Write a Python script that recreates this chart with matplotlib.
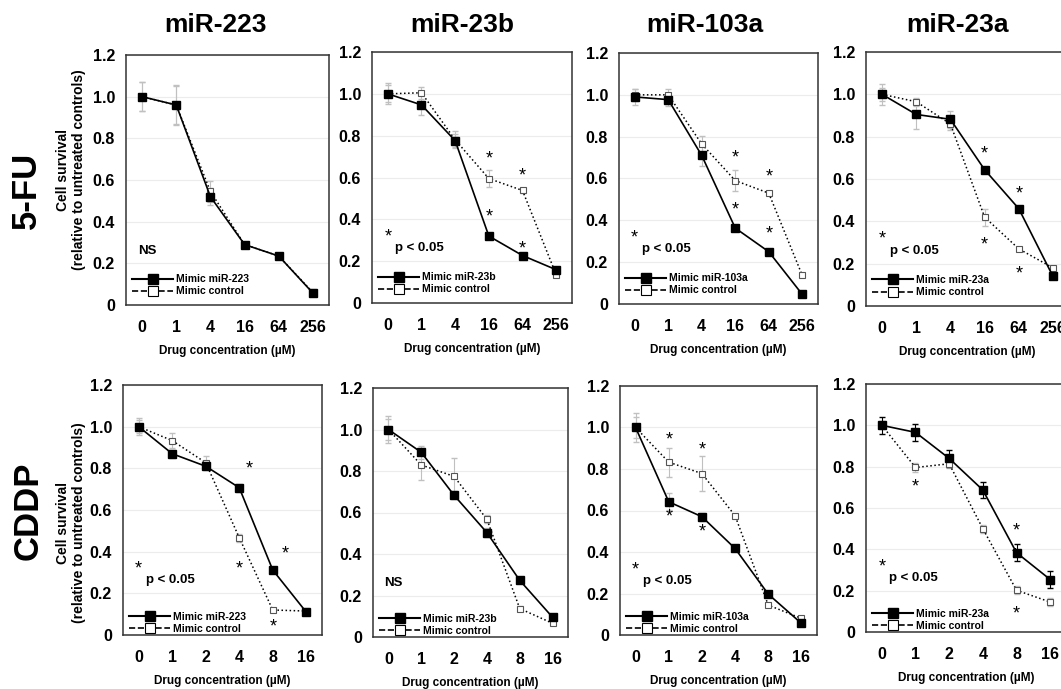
import matplotlib
matplotlib.use("Agg")
import matplotlib.pyplot as plt
from matplotlib.lines import Line2D

plt.rcParams['font.family'] = ['Liberation Sans', 'DejaVu Sans']
plt.rcParams['font.weight'] = 'bold'

# x categories (drug concentration, uM)
conc_5fu = ['0', '1', '4', '16', '64', '256']
conc_cddp = ['0', '1', '2', '4', '8', '16']

mirnas = ['miR-223', 'miR-23b', 'miR-103a', 'miR-23a']

# 5-FU row
fu_223_mimic = [1.00, 0.96, 0.52, 0.29, 0.235, 0.057]
fu_223_ctrl = [1.00, 0.96, 0.545, 0.29, 0.235, 0.06]
fu_223_mimic_err = [0.07, 0.095, 0.04, 0.01, 0.01, 0.01]
fu_223_ctrl_err = [0.07, 0.09, 0.05, 0.01, 0.01, 0.01]

fu_23b_mimic = [1.00, 0.947, 0.776, 0.32, 0.227, 0.159]
fu_23b_ctrl = [1.00, 1.005, 0.78, 0.595, 0.538, 0.135]
fu_23b_mimic_err = [0.05, 0.05, 0.03, 0.01, 0.01, 0.01]
fu_23b_ctrl_err = [0.04, 0.03, 0.04, 0.04, 0.01, 0.01]

fu_103a_mimic = [0.99, 0.977, 0.71, 0.363, 0.25, 0.046]
fu_103a_ctrl = [1.00, 1.00, 0.765, 0.59, 0.53, 0.137]
fu_103a_mimic_err = [0.04, 0.03, 0.05, 0.01, 0.01, 0.01]
fu_103a_ctrl_err = [0.03, 0.03, 0.04, 0.05, 0.01, 0.01]

fu_23a_mimic = [1.00, 0.905, 0.882, 0.644, 0.46, 0.14]
fu_23a_ctrl = [1.00, 0.965, 0.86, 0.42, 0.27, 0.18]
fu_23a_mimic_err = [0.05, 0.07, 0.04, 0.01, 0.01, 0.01]
fu_23a_ctrl_err = [0.03, 0.02, 0.03, 0.04, 0.01, 0.01]

# CDDP row
cddp_223_mimic = [1.00, 0.87, 0.81, 0.707, 0.312, 0.11]
cddp_223_ctrl = [1.00, 0.933, 0.827, 0.467, 0.12, 0.115]
cddp_223_mimic_err = [0.04, 0.02, 0.02, 0.02, 0.01, 0.01]
cddp_223_ctrl_err = [0.03, 0.035, 0.03, 0.02, 0.01, 0.01]

cddp_23b_mimic = [1.00, 0.89, 0.683, 0.503, 0.273, 0.095]
cddp_23b_ctrl = [1.00, 0.829, 0.774, 0.567, 0.137, 0.066]
cddp_23b_mimic_err = [0.065, 0.03, 0.02, 0.02, 0.01, 0.01]
cddp_23b_ctrl_err = [0.05, 0.07, 0.09, 0.02, 0.01, 0.01]

cddp_103a_mimic = [1.00, 0.642, 0.57, 0.417, 0.197, 0.056]
cddp_103a_ctrl = [1.00, 0.833, 0.778, 0.575, 0.144, 0.08]
cddp_103a_mimic_err = [0.07, 0.04, 0.02, 0.01, 0.01, 0.01]
cddp_103a_ctrl_err = [0.05, 0.07, 0.085, 0.01, 0.01, 0.01]

cddp_23a_mimic = [1.00, 0.966, 0.84, 0.687, 0.384, 0.254]
cddp_23a_ctrl = [1.00, 0.796, 0.814, 0.50, 0.202, 0.145]
cddp_23a_mimic_err = [0.04, 0.04, 0.04, 0.04, 0.04, 0.04]
cddp_23a_ctrl_err = [0.02, 0.02, 0.02, 0.02, 0.02, 0.02]

# significance marks (x index, y)
stars = [
    [],
    [(3, 0.69), (3, 0.41), (4, 0.605), (4, 0.256)],
    [(3, 0.70), (3, 0.45), (4, 0.607), (4, 0.333)],
    [(3, 0.72), (3, 0.29), (4, 0.53), (4, 0.15)],
    [(3.3, 0.795), (3.0, 0.315), (4.36, 0.39), (4.0, 0.04)],
    [],
    [(1, 0.942), (1, 0.57), (2, 0.89), (2, 0.497)],
    [(1, 0.70), (3.95, 0.367), (4, 0.49), (4, 0.086)],
]
sig = [False, True, True, True, True, False, True, True]

panels = [
    (fu_223_mimic, fu_223_ctrl, fu_223_mimic_err, fu_223_ctrl_err),
    (fu_23b_mimic, fu_23b_ctrl, fu_23b_mimic_err, fu_23b_ctrl_err),
    (fu_103a_mimic, fu_103a_ctrl, fu_103a_mimic_err, fu_103a_ctrl_err),
    (fu_23a_mimic, fu_23a_ctrl, fu_23a_mimic_err, fu_23a_ctrl_err),
    (cddp_223_mimic, cddp_223_ctrl, cddp_223_mimic_err, cddp_223_ctrl_err),
    (cddp_23b_mimic, cddp_23b_ctrl, cddp_23b_mimic_err, cddp_23b_ctrl_err),
    (cddp_103a_mimic, cddp_103a_ctrl, cddp_103a_mimic_err, cddp_103a_ctrl_err),
    (cddp_23a_mimic, cddp_23a_ctrl, cddp_23a_mimic_err, cddp_23a_ctrl_err),
]

# axes boxes in pixels: left, right, top, bottom
boxes = [
    (126, 329, 55, 305), (372, 572, 52, 303), (619, 818, 53, 304), (866, 1069, 52, 306),
    (123, 322, 385, 635), (373, 568, 388, 637), (620, 817, 386, 635), (866, 1066, 384, 632),
]

W, H = 1061, 689
fig = plt.figure(figsize=(W / 100, H / 100), dpi=100)

for i, (mimic, ctrl, merr, cerr) in enumerate(panels):
    l, r, t, b = boxes[i]
    ax = fig.add_axes([l / W, 1 - b / H, (r - l) / W, (b - t) / H])
    labels = conc_5fu if i < 4 else conc_cddp
    x = range(len(labels))
    mir = mirnas[i % 4]

    ax.errorbar(x, ctrl, yerr=cerr, fmt='none', ecolor='#c0c0c0', elinewidth=0.8, capsize=2, zorder=2)
    ecol = 'black' if i == 7 else '#c0c0c0'
    ax.errorbar(x, mimic, yerr=merr, fmt='none', ecolor=ecol, elinewidth=0.8, capsize=2, zorder=3)
    ax.plot(x, ctrl, ls=':', color='black', lw=1.1, marker='s', ms=4,
            mfc='white', mec='#555555', mew=0.8, zorder=4)
    ax.plot(x, mimic, ls='-', color='black', lw=1.2, marker='s', ms=6.3,
            mfc='black', mec='black', zorder=5)

    for sx, sy in stars[i]:
        ax.text(sx, sy, '*', ha='center', va='center', fontsize=13, fontweight='normal')

    if sig[i]:
        ax.text(0.0, 0.315, '*', ha='center', va='center', fontsize=13, fontweight='normal')
        ax.text(0.22, 0.262, 'p < 0.05', ha='left', va='center', fontsize=9.5)
    else:
        ax.text(-0.12, 0.26, 'NS', ha='left', va='center', fontsize=9.5)

    handles = [
        Line2D([], [], ls='-', color='black', lw=1.5, marker='s', ms=7, mfc='black'),
        Line2D([], [], ls='--', color='black', lw=1.2, marker='s', ms=7, mfc='white', mec='black', mew=0.8),
    ]
    ax.legend(handles, ['Mimic ' + mir, 'Mimic control'], loc='lower left',
              bbox_to_anchor=(0.0, 0.01 if i < 4 else -0.02), frameon=False,
              prop={'size': 7.5, 'weight': 'bold'}, handlelength=3.9,
              handletextpad=0.3, labelspacing=0.2, borderaxespad=0.2)

    ax.set_xlim(-0.47, 5.47)
    ax.set_ylim(0, 1.2)
    ax.set_xticks(list(x))
    ax.set_xticklabels(labels, fontsize=11.5, fontweight='bold')
    ax.set_yticks([0, 0.2, 0.4, 0.6, 0.8, 1.0, 1.2])
    ax.set_yticklabels(['0', '0.2', '0.4', '0.6', '0.8', '1.0', '1.2'], fontsize=11.5, fontweight='bold')
    ax.tick_params(axis='both', length=0)
    ax.tick_params(axis='x', pad=11)
    ax.tick_params(axis='y', pad=8)
    ax.grid(axis='y', color='#ececec', lw=0.8)
    ax.set_axisbelow(True)
    for s in ax.spines.values():
        s.set_color('#333333')
        s.set_linewidth(1.1)
    ax.set_xlabel('Drug concentration (\u00b5M)', fontsize=8.5, fontweight='bold', labelpad=7)

# column titles
title_x = [216, 462, 705, 957]
for mir, tx in zip(mirnas, title_x):
    fig.text(tx / W, 1 - 25 / H, mir, ha='center', va='center', fontsize=19, fontweight='bold')

# row titles and y labels
fig.text(26 / W, 1 - 190 / H, '5-FU', rotation=90, ha='center', va='center', fontsize=25, fontweight='bold')
fig.text(28 / W, 1 - 511 / H, 'CDDP', rotation=90, ha='center', va='center', fontsize=25, fontweight='bold')
for yc in [170, 523]:
    fig.text(71 / W, 1 - yc / H, 'Cell survival\n(relative to untreated controls)', rotation=90,
             ha='center', va='center', fontsize=10, fontweight='bold', multialignment='center',
             linespacing=1.25)

plt.savefig('out.png', dpi=100)
